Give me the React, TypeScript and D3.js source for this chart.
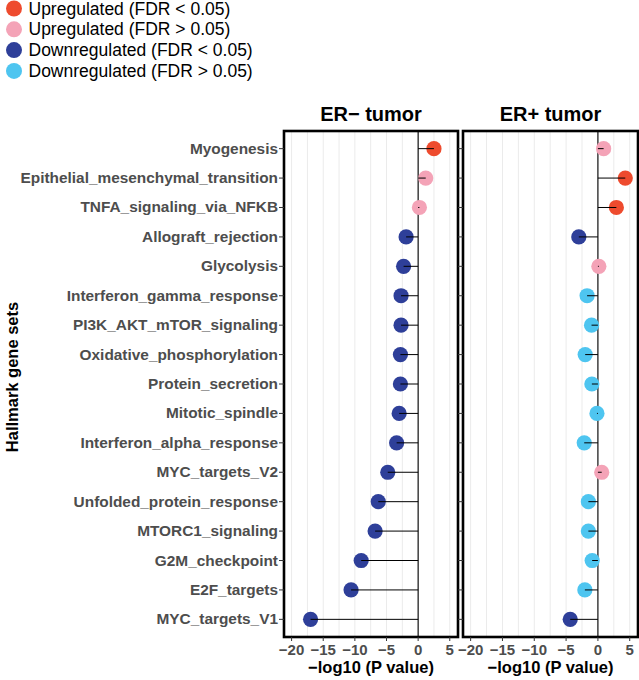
import React from "react";
import * as d3 from "d3";

const categories = [
  "Myogenesis",
  "Epithelial_mesenchymal_transition",
  "TNFA_signaling_via_NFKB",
  "Allograft_rejection",
  "Glycolysis",
  "Interferon_gamma_response",
  "PI3K_AKT_mTOR_signaling",
  "Oxidative_phosphorylation",
  "Protein_secretion",
  "Mitotic_spindle",
  "Interferon_alpha_response",
  "MYC_targets_V2",
  "Unfolded_protein_response",
  "MTORC1_signaling",
  "G2M_checkpoint",
  "E2F_targets",
  "MYC_targets_V1",
];

const erNegValues = [2.5, 1.2, 0.2, -1.9, -2.3, -2.7, -2.7, -2.8, -2.8, -3.0, -3.4, -4.8, -6.3, -6.8, -9.0, -10.6, -17.0];
const erNegGroup = ["UpSig", "UpNS", "UpNS", "DownSig", "DownSig", "DownSig", "DownSig", "DownSig", "DownSig", "DownSig", "DownSig", "DownSig", "DownSig", "DownSig", "DownSig", "DownSig", "DownSig"];

const erPosValues = [0.9, 4.3, 2.9, -3.0, 0.15, -1.7, -1.0, -2.0, -0.95, -0.15, -2.15, 0.6, -1.5, -1.5, -0.9, -2.05, -4.35];
const erPosGroup = ["UpNS", "UpSig", "UpSig", "DownSig", "UpNS", "DownNS", "DownNS", "DownNS", "DownNS", "DownNS", "DownNS", "UpNS", "DownNS", "DownNS", "DownNS", "DownNS", "DownSig"];

const legendKeys = ["UpSig", "UpNS", "DownSig", "DownNS"];
const legendLabels = [
  "Upregulated (FDR < 0.05)",
  "Upregulated (FDR > 0.05)",
  "Downregulated (FDR < 0.05)",
  "Downregulated (FDR > 0.05)",
];
const colors: Record<string, string> = {
  UpSig: "#EE4B2E",
  UpNS: "#F4A3B7",
  DownSig: "#2E3F99",
  DownNS: "#4EC5F0",
};

const xTicks = [-20, -15, -10, -5, 0, 5];
const gridVals = d3.range(-20, 5.01, 2.5);

const FONT = "'Liberation Sans', Arial, Helvetica, sans-serif";

const yScale = d3.scalePoint<string>().domain(categories).range([131, 637]).padding(0.6);
const PANEL_TOP = 131;
const PANEL_BOTTOM = 637;

function Panel({ x0, x1, title, values, groups, showLabels }: any) {
  const x = d3.scaleLinear().domain([-21.2, 6.3]).range([x0, x1]);
  const cx = (x0 + x1) / 2;
  return (
    <g>
      <rect x={x0} y={PANEL_TOP} width={x1 - x0} height={PANEL_BOTTOM - PANEL_TOP} fill="#fff" />
      {gridVals.map((g) => (
        <line key={g} x1={x(g)} x2={x(g)} y1={PANEL_TOP} y2={PANEL_BOTTOM} stroke="#EBEBEB" strokeWidth={1} />
      ))}
      <line x1={x(0)} x2={x(0)} y1={PANEL_TOP} y2={PANEL_BOTTOM} stroke="#000" strokeWidth={1.1} />
      {categories.map((c, i) => (
        <circle key={c} cx={x(values[i])} cy={yScale(c)} r={7.6} fill={colors[groups[i]]} />
      ))}
      {categories.map((c, i) => (
        <line key={c} x1={x(0)} x2={x(values[i])} y1={yScale(c)} y2={yScale(c)} stroke="#000" strokeWidth={1} />
      ))}
      <rect x={x0} y={PANEL_TOP} width={x1 - x0} height={PANEL_BOTTOM - PANEL_TOP} fill="none" stroke="#000" strokeWidth={2.6} />
      {categories.map((c) => (
        <line key={c} x1={x0 - 5} x2={x0} y1={yScale(c)} y2={yScale(c)} stroke="#333" strokeWidth={1} />
      ))}
      {showLabels &&
        categories.map((c) => (
          <text key={c} x={x0 - 6} y={(yScale(c) as number) + 5} textAnchor="end" fontFamily={FONT} fontWeight="bold" fontSize={15.4} fill="#4D4D4D">
            {c}
          </text>
        ))}
      {xTicks.map((t) => (
        <g key={t}>
          <line x1={x(t)} x2={x(t)} y1={PANEL_BOTTOM} y2={PANEL_BOTTOM + 4} stroke="#333" strokeWidth={1} />
          <text x={x(t)} y={PANEL_BOTTOM + 18} textAnchor="middle" fontFamily={FONT} fontWeight="bold" fontSize={15} fill="#4D4D4D">
            {t < 0 ? "\u2212" + Math.abs(t) : String(t)}
          </text>
        </g>
      ))}
      <text x={cx} y={673} textAnchor="middle" fontFamily={FONT} fontWeight="bold" fontSize={16.5} fill="#000">
        {"\u2212log10 (P value)"}
      </text>
      <text x={cx} y={121} textAnchor="middle" fontFamily={FONT} fontWeight="bold" fontSize={20} fill="#000">
        {title}
      </text>
    </g>
  );
}

export default function App() {
  return (
    <svg width={639} height={680} style={{ position: "absolute", left: 0, top: 0, background: "#fff" }}>
      <rect x={0} y={0} width={639} height={680} fill="#fff" />
      {legendKeys.map((k, i) => (
        <g key={k}>
          <circle cx={14} cy={8.5 + i * 20.8} r={8} fill={colors[k]} />
          <text x={28.5} y={8.5 + i * 20.8 + 6} fontFamily={FONT} fontSize={17.5} fill="#000">
            {legendLabels[i]}
          </text>
        </g>
      ))}
      <text transform="translate(18,377) rotate(-90)" textAnchor="middle" fontFamily={FONT} fontWeight="bold" fontSize={16.5} fill="#000">
        Hallmark gene sets
      </text>
      <Panel x0={284} x1={458} title={"ER\u2212 tumor"} values={erNegValues} groups={erNegGroup} showLabels={true} />
      <Panel x0={463} x1={638} title="ER+ tumor" values={erPosValues} groups={erPosGroup} showLabels={false} />
    </svg>
  );
}
